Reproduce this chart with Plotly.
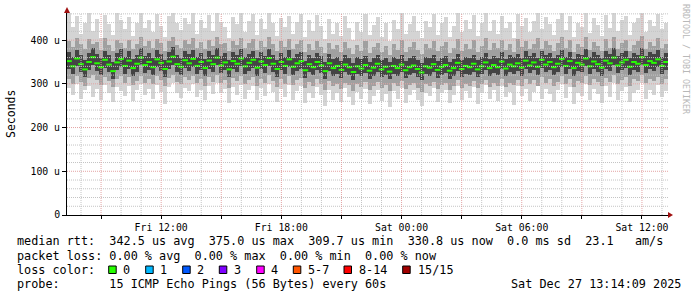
import plotly.graph_objects as go
import pandas as pd

# ---------------- data ----------------
T_START = "2025-12-26 07:18"
T_END = "2025-12-27 13:18"
STEP_MIN = 12

median_rtt = [352, 340, 358, 345, 333, 350, 361, 347, 338, 355, 344, 329, 349, 357, 341, 353, 336, 346, 360, 343, 350, 338, 356, 348, 334, 351, 362, 345, 339, 354,
              347, 357, 341, 350, 336, 353, 345, 360, 342, 349, 333, 352, 346, 358, 340, 348, 355, 337, 351, 343, 359, 346, 334, 350, 341, 356, 339, 347, 352, 331,
              345, 338, 350, 342, 329, 347, 336, 341, 332, 344, 338, 327, 340, 335, 343, 330, 337, 346, 333, 339, 328, 341, 336, 344, 331, 338, 342, 334, 326, 340,
              337, 345, 332, 339, 343, 330, 336, 348, 334, 341, 338, 346, 333, 340, 349, 336, 343, 338, 351, 335, 344, 340, 347, 337, 353, 342, 349, 339, 355, 344,
              350, 338, 346, 357, 341, 352, 336, 348, 344, 358, 340, 351, 345, 337, 353, 347, 360, 342, 349, 355, 339, 350, 346, 361, 343, 352, 348, 356, 341, 350]

ping_max = [462, 430, 455, 415, 440, 462, 420, 448, 405, 458, 436, 412, 462, 445, 425, 452, 410, 438, 462, 428, 447, 418, 460, 433, 408, 455, 462, 440, 422, 450,
            437, 462, 415, 446, 428, 458, 420, 462, 441, 430, 405, 452, 436, 462, 418, 444, 459, 412, 448, 425, 462, 438, 410, 450, 430, 456, 414, 441, 460, 408,
            445, 420, 458, 432, 402, 449, 415, 438, 410, 455, 428, 400, 442, 418, 460, 412, 435, 452, 408, 440, 398, 447, 425, 462, 414, 436, 455, 420, 404, 443,
            430, 460, 412, 440, 452, 406, 433, 462, 418, 445, 425, 458, 410, 438, 462, 420, 447, 415, 456, 428, 441, 405, 460, 432, 450, 418, 444, 462, 426, 453,
            436, 412, 448, 462, 422, 455, 408, 440, 430, 462, 416, 450, 435, 410, 458, 428, 462, 420, 445, 456, 412, 438, 450, 462, 418, 447, 433, 460, 425, 440]

ping_min = [290, 275, 300, 265, 285, 295, 270, 288, 262, 298, 280, 258, 292, 283, 272, 296, 260, 286, 300, 274, 289, 266, 297, 281, 255, 293, 302, 278, 268, 291,
            284, 299, 270, 287, 263, 295, 276, 301, 280, 288, 257, 293, 275, 298, 266, 285, 296, 262, 290, 273, 300, 282, 259, 289, 271, 297, 264, 283, 294, 256,
            280, 268, 292, 274, 250, 286, 262, 278, 258, 290, 270, 252, 281, 265, 288, 255, 273, 287, 260, 276, 248, 283, 266, 291, 257, 275, 286, 263, 250, 279,
            272, 290, 258, 280, 287, 256, 274, 295, 262, 283, 268, 292, 255, 278, 297, 266, 285, 260, 294, 270, 282, 252, 296, 273, 289, 261, 281, 298, 265, 288,
            277, 258, 286, 300, 268, 292, 254, 280, 272, 299, 263, 288, 276, 257, 296, 270, 301, 264, 284, 293, 259, 279, 287, 302, 266, 285, 274, 297, 269, 283]

band_hi = [398, 385, 405, 390, 380, 402, 392, 396, 378, 404, 388, 375, 400, 394, 383, 401, 379, 391, 406, 386, 397, 381, 403, 393, 376, 399, 408, 389, 382, 400,
           392, 404, 383, 395, 380, 401, 387, 407, 390, 394, 374, 399, 388, 405, 381, 393, 402, 377, 397, 385, 406, 391, 376, 398, 384, 403, 380, 392, 401, 373,
           390, 378, 397, 385, 370, 393, 379, 388, 372, 395, 382, 368, 389, 376, 398, 371, 384, 394, 373, 386, 367, 391, 378, 400, 372, 385, 396, 377, 369, 390,
           383, 399, 374, 387, 395, 371, 382, 402, 376, 391, 380, 400, 373, 386, 404, 378, 393, 381, 401, 377, 390, 372, 403, 384, 397, 379, 392, 405, 380, 398,
           388, 375, 394, 406, 382, 400, 373, 390, 385, 407, 378, 396, 387, 374, 402, 383, 408, 379, 393, 401, 376, 389, 397, 409, 380, 395, 386, 404, 381, 392]

band_lo = [312, 300, 318, 305, 296, 314, 320, 308, 298, 316, 306, 292, 311, 317, 302, 315, 297, 307, 319, 303, 312, 299, 318, 309, 294, 313, 321, 305, 300, 315,
           308, 318, 301, 311, 295, 316, 304, 320, 302, 309, 291, 313, 306, 319, 299, 308, 315, 296, 312, 303, 320, 307, 293, 311, 300, 317, 297, 308, 313, 290,
           304, 296, 310, 300, 286, 306, 294, 300, 289, 303, 297, 284, 299, 292, 304, 287, 296, 305, 290, 298, 283, 301, 294, 306, 288, 297, 302, 291, 282, 300,
           295, 305, 289, 298, 303, 286, 294, 308, 291, 300, 296, 306, 290, 299, 309, 293, 302, 296, 311, 292, 303, 297, 308, 295, 312, 299, 309, 296, 315, 303,
           310, 296, 305, 317, 299, 312, 293, 307, 302, 318, 297, 311, 304, 294, 313, 305, 320, 300, 309, 315, 296, 310, 306, 321, 301, 312, 307, 316, 299, 310]

core_hi = [372, 362, 378, 366, 355, 371, 382, 368, 358, 376, 365, 350, 370, 379, 361, 374, 357, 367, 381, 364, 371, 359, 377, 369, 354, 372, 384, 366, 360, 375,
           368, 378, 362, 371, 357, 374, 366, 381, 363, 370, 354, 373, 367, 379, 361, 369, 376, 358, 372, 364, 380, 367, 355, 371, 362, 377, 360, 368, 373, 352,
           366, 359, 371, 363, 350, 368, 357, 362, 353, 365, 359, 348, 361, 356, 364, 351, 358, 367, 354, 360, 349, 362, 357, 365, 352, 359, 363, 355, 347, 361,
           358, 366, 353, 360, 364, 351, 357, 369, 355, 362, 359, 367, 354, 361, 370, 357, 364, 359, 372, 356, 365, 361, 368, 358, 374, 363, 370, 360, 376, 365,
           371, 359, 367, 378, 362, 373, 357, 369, 365, 379, 361, 372, 366, 358, 374, 368, 381, 363, 370, 376, 360, 371, 367, 382, 364, 373, 369, 377, 362, 371]

core_lo = [334, 322, 340, 327, 315, 332, 343, 329, 320, 337, 326, 311, 331, 339, 323, 335, 318, 328, 342, 325, 332, 320, 338, 330, 316, 333, 344, 327, 321, 336,
           329, 339, 323, 332, 318, 335, 327, 342, 324, 331, 315, 334, 328, 340, 322, 330, 337, 319, 333, 325, 341, 328, 316, 332, 323, 338, 321, 329, 334, 313,
           327, 320, 332, 324, 311, 329, 318, 323, 314, 326, 320, 309, 322, 317, 325, 312, 319, 328, 315, 321, 310, 323, 318, 326, 313, 320, 324, 316, 308, 322,
           319, 327, 314, 321, 325, 312, 318, 330, 316, 323, 320, 328, 315, 322, 331, 318, 325, 320, 333, 317, 326, 322, 329, 319, 335, 324, 331, 321, 337, 326,
           332, 320, 328, 339, 323, 334, 318, 330, 326, 340, 322, 333, 327, 319, 335, 329, 342, 324, 331, 337, 321, 332, 328, 343, 325, 334, 330, 338, 323, 332]

y_tickvals = [0, 100, 200, 300, 400]
y_ticktext = ["0", "100 u", "200 u", "300 u", "400 u"]
Y_MAX = 462

loss_labels = ["0", "1", "2", "3", "4", "5-7", "8-14", "15/15"]
loss_colors = ["#26ff00", "#00b8ff", "#0059ff", "#7e00ff", "#ff00ff", "#ff5500", "#ff0000", "#a10000"]

line_rtt = "median rtt:  342.5 us avg  375.0 us max  309.7 us min  330.8 us now  0.0 ms sd  23.1   am/s"
line_loss = "packet loss: 0.00 % avg  0.00 % max  0.00 % min  0.00 % now"
line_color = "loss color:"
line_probe = "probe:       15 ICMP Echo Pings (56 Bytes) every 60s"
line_date = "Sat Dec 27 13:14:09 2025"
watermark = "RRDTOOL / TOBI OETIKER"

# ---------------- layout helpers ----------------
W, H = 697, 297
PL, PR, PT, PB = 67, 668, 13, 215
MONO = "DejaVu Sans Mono"


def px(xp):
    return (xp - PL) / (PR - PL)


def py(yp):
    return (PB - yp) / (PB - PT)


def nb(s):
    return s.replace(" ", "\u00a0")


n = len(median_rtt)
times = pd.date_range(pd.Timestamp(T_START) + pd.Timedelta(minutes=STEP_MIN / 2), periods=n, freq=f"{STEP_MIN}min")
bw = STEP_MIN * 60 * 1000

fig = go.Figure()


def band(lo, hi, color):
    fig.add_trace(go.Bar(x=times, y=[h - l for h, l in zip(hi, lo)], base=lo, width=bw,
                         marker=dict(color=color, line=dict(width=0)), hoverinfo="skip"))


band(ping_min, ping_max, "#d4d4d4")
band(band_lo, band_hi, "#a0a0a0")
band(core_lo, core_hi, "#444444")

fig.add_trace(go.Scatter(x=times, y=median_rtt, mode="markers",
                         marker=dict(symbol="line-ew", size=4, line=dict(width=2, color=loss_colors[0])),
                         hoverinfo="skip"))

shapes = []
# horizontal grid (above traces like rrdtool)
for v in range(20, Y_MAX, 20):
    col = "#e3a3a3" if v % 100 == 0 else "#c4c4c4"
    shapes.append(dict(type="line", xref="paper", yref="y", x0=0, x1=1, y0=v, y1=v,
                       line=dict(color=col, width=1, dash="1px,1px"), layer="above"))
# vertical grid
for t in pd.date_range("2025-12-26 08:00", "2025-12-27 13:00", freq="1h"):
    col = "#e3a3a3" if t.hour % 3 == 0 else "#c4c4c4"
    shapes.append(dict(type="line", xref="x", yref="paper", x0=t, x1=t, y0=0, y1=1,
                       line=dict(color=col, width=1, dash="1px,1px"), layer="above"))

# axis arrows
shapes.append(dict(type="path", xref="paper", yref="paper", xsizemode="pixel", ysizemode="pixel",
                   xanchor=0, yanchor=1, path="M -3,0 L 3,0 L 0,6 Z",
                   fillcolor="#a01010", line=dict(width=0), layer="above"))
shapes.append(dict(type="path", xref="paper", yref="paper", xsizemode="pixel", ysizemode="pixel",
                   xanchor=1, yanchor=0, path="M 0,3 L 0,-3 L 5,0 Z",
                   fillcolor="#a01010", line=dict(width=0), layer="above"))

# loss colour squares
sq_x = [108.7, 145.7, 182.7, 219.3, 256.7, 293.3, 344.0, 402.7]
lab_x = [123, 160, 197, 234, 271, 308, 359, 417.7]
for sx, c in zip(sq_x, loss_colors):
    shapes.append(dict(type="rect", xref="paper", yref="paper",
                       x0=px(sx), x1=px(sx + 7.5), y0=py(266), y1=py(273.5),
                       fillcolor=c, line=dict(color="black", width=1)))

ann = []


def txt(s, x, y, anchor="left", size=11.8, color="black", angle=0):
    ann.append(dict(text=nb(s), x=px(x), y=py(y), xref="paper", yref="paper",
                    xanchor=anchor, yanchor="middle", showarrow=False, textangle=angle,
                    font=dict(family=MONO, size=size, color=color), borderpad=0))


txt(line_rtt, 15.5, 241.5)
txt(line_loss, 15.5, 255.5)
txt(line_color, 15.5, 269.5)
for lx, lab in zip(lab_x, loss_labels):
    txt(lab, lx - 1, 269.5)
txt(line_probe, 15.5, 283.5)
txt(line_date, 681.5, 283.5, anchor="right")

ann.append(dict(text="Seconds", x=px(11), y=py(114), xref="paper", yref="paper",
                xanchor="center", yanchor="middle", showarrow=False, textangle=-90,
                font=dict(family=MONO, size=11.5, color="black")))
ann.append(dict(text=nb(watermark), x=px(686), y=py(59), xref="paper", yref="paper",
                xanchor="center", yanchor="middle", showarrow=False, textangle=90,
                font=dict(family=MONO, size=8.3, color="#b8b8b8")))

x_ticks = pd.date_range("2025-12-26 09:00", "2025-12-27 12:00", freq="3h")
x_ticktext = [t.strftime("%a %H:%M") if t.hour % 6 == 0 else "" for t in x_ticks]

fig.update_layout(
    width=W, height=H,
    margin=dict(l=PL, r=W - PR, t=PT, b=H - PB, pad=0),
    paper_bgcolor="white", plot_bgcolor="white",
    barmode="overlay", bargap=0, showlegend=False,
    shapes=shapes, annotations=ann,
    xaxis=dict(type="date", range=[T_START, T_END], showgrid=False, zeroline=False,
               tickvals=list(x_ticks), ticktext=x_ticktext,
               ticks="outside", ticklen=3, tickcolor="black",
               showline=True, linecolor="black", linewidth=1,
               tickfont=dict(family=MONO, size=9.8, color="black"), fixedrange=True),
    yaxis=dict(range=[0, Y_MAX], showgrid=False, zeroline=False,
               tickvals=y_tickvals, ticktext=y_ticktext,
               ticks="outside", ticklen=4, tickcolor="black",
               showline=True, linecolor="black", linewidth=1,
               tickfont=dict(family=MONO, size=9.8, color="black"), fixedrange=True),
)

fig.write_html("out.html")
